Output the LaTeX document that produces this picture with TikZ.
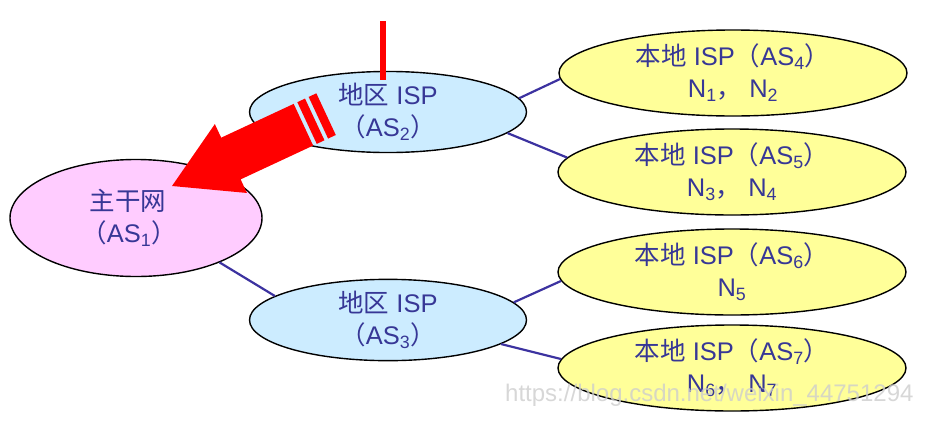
\documentclass[tikz,border=0pt]{standalone}
\usepackage{fontspec}
\setmainfont{Liberation Sans}
\newfontfamily\cjk{Noto Sans CJK SC}
\usetikzlibrary{shapes.geometric}
\definecolor{txt}{RGB}{55,55,150}
\definecolor{lnk}{RGB}{60,50,160}
\definecolor{pinkf}{RGB}{255,204,255}
\definecolor{bluef}{RGB}{204,236,255}
\definecolor{yelf}{RGB}{255,255,153}
\definecolor{wmark}{RGB}{205,205,205}
\begin{document}
\begin{tikzpicture}[x=1pt,y=-1pt,
  as/.style={ellipse,draw=black,line width=1.4pt,inner sep=0pt,align=center,text=txt,
             font=\fontsize{25.5}{32}\selectfont},
  core/.style={as,fill=pinkf,minimum width=252pt,minimum height=117pt},
  region/.style={as,fill=bluef,minimum width=277pt,minimum height=71pt},
  local/.style={as,fill=yelf,minimum width=348pt,minimum height=86pt},
  link/.style={draw=lnk,line width=2.2pt},
  redbar/.style={fill=red,draw=none}]
\useasboundingbox (0,0) rectangle (951,426);

\node[core] (as1) at (136,218) {\hspace*{-16pt}{\cjk 主干网}\\\hspace*{-14pt}{\cjk （}AS\textsubscript{1}{\cjk ）}};
\node[region] (as2) at (388,112) {{\cjk 地区} ISP\\{\cjk （}AS\textsubscript{2}{\cjk ）}};
\node[region] (as3) at (388,320) {{\cjk 地区} ISP\\{\cjk （}AS\textsubscript{3}{\cjk ）}};
\node[local] (as4) at (733,73) {{\cjk 本地} ISP{\cjk （}AS\textsubscript{4}{\cjk ）}\\N\textsubscript{1}{\cjk ，} N\textsubscript{2}};
\node[local] (as5) at (732,172) {{\cjk 本地} ISP{\cjk （}AS\textsubscript{5}{\cjk ）}\\N\textsubscript{3}{\cjk ，} N\textsubscript{4}};
\node[local] (as6) at (732,272) {{\cjk 本地} ISP{\cjk （}AS\textsubscript{6}{\cjk ）}\\N\textsubscript{5}};
\node[local] (as7) at (732,368) {{\cjk 本地} ISP{\cjk （}AS\textsubscript{7}{\cjk ）}\\N\textsubscript{6}{\cjk ，} N\textsubscript{7}};

\draw[link] (as1.-28.7) -- (as3.168.5);
\draw[link] (as2.6.7) -- (as4.182.4);
\draw[link] (as2.-10.2) -- (as5.175.9);
\draw[link] (as3.8.4) -- (as6.183.8);
\draw[link] (as3.-12) -- (as7.177.3);

% red marker line
\coordinate (rtop) at (383,21);
\coordinate (rbot) at (383,80);
\draw[red,line width=6.5pt] (rtop) -- (rbot);

% red striped block arrow
\begin{scope}[shift={(172,186)},rotate=205]
  \fill[redbar] (0,0) -- (-65,38) -- (-65,23) -- (-145,23) -- (-145,-23) -- (-65,-23) -- (-65,-38) -- cycle;
  \fill[redbar] (-149,23) rectangle (-157.5,-23);
  \fill[redbar] (-161.5,23) rectangle (-170,-23);
\end{scope}

\node[anchor=west,text=wmark,font=\fontsize{24}{26}\selectfont,inner sep=0pt,opacity=0.8] (wm) at (505,395) {https://blog.csdn.net/weixin\_44751294};
\end{tikzpicture}
\end{document}
